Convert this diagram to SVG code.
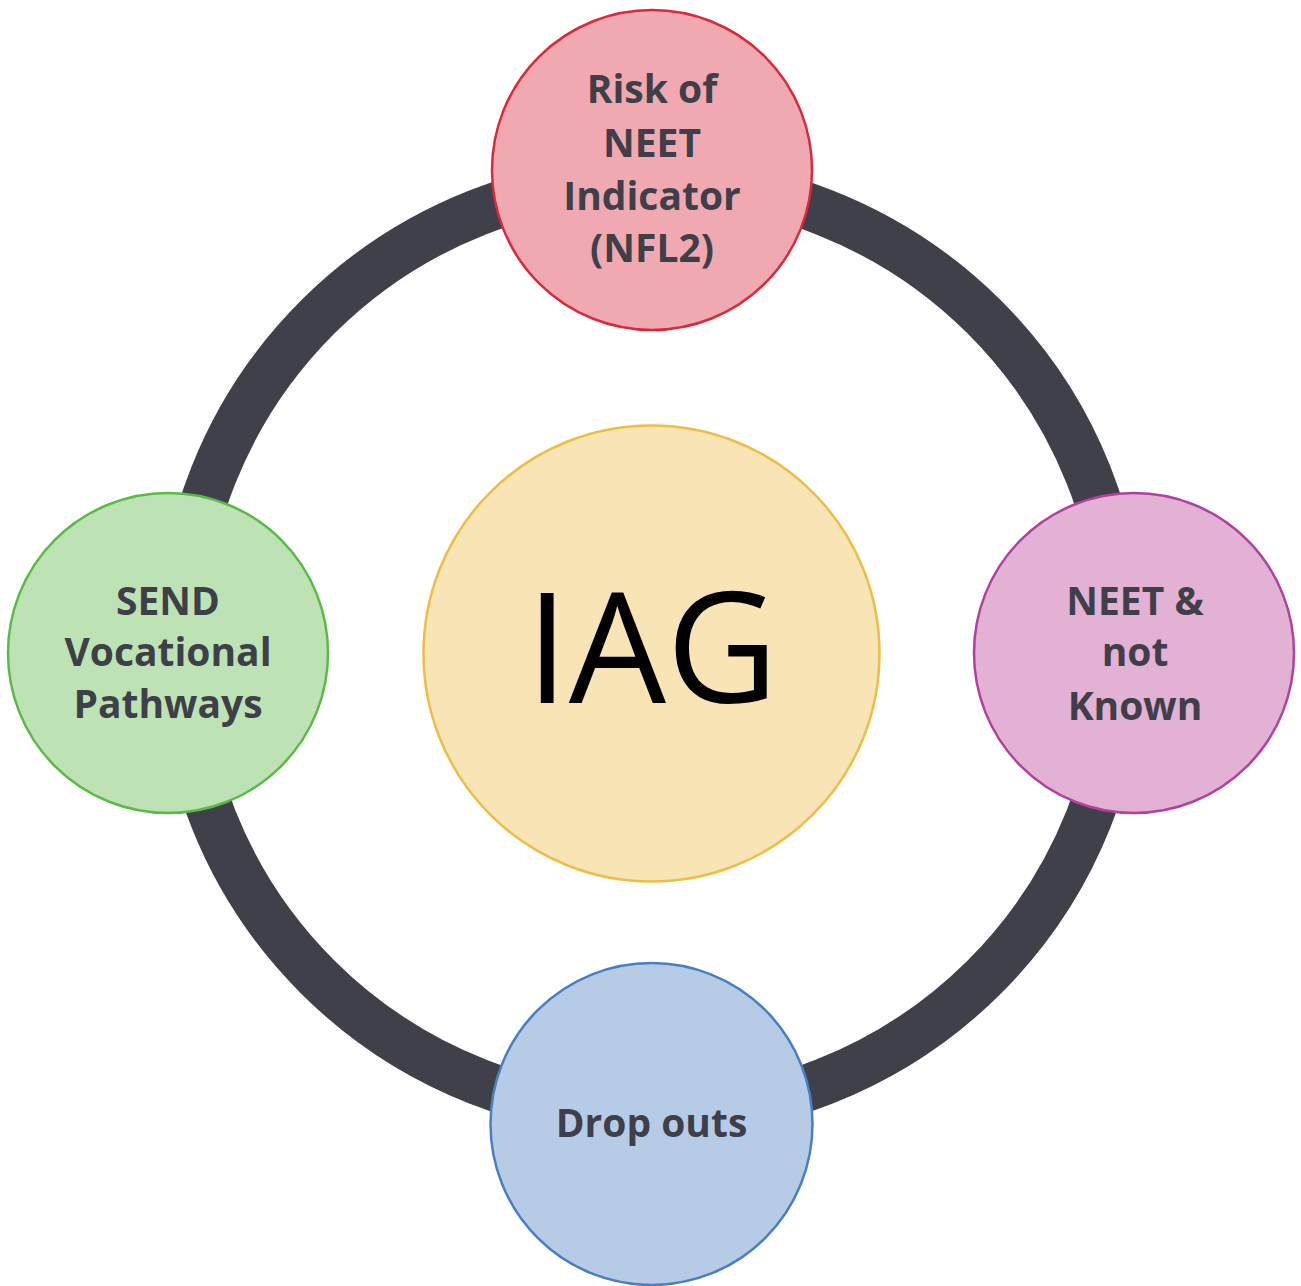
<svg xmlns="http://www.w3.org/2000/svg" width="1301" height="1286" viewBox="0 0 1301 1286">
<style>
.lbl{font-family:"Open Sans","Noto Sans","DejaVu Sans",sans-serif;font-weight:bold;font-size:39px;fill:#3F3F4A;text-anchor:middle}
.node{stroke-width:2.5}
</style>
<rect width="1301" height="1286" fill="#FFFFFF"/>
<g id="connectors">
<ellipse cx="651" cy="647" rx="470.5" ry="467.5" fill="none" stroke="#40404B" stroke-width="47"/>
</g>
<g id="node-iag">
<circle cx="651.5" cy="653.5" r="228" fill="#F9E4B5" stroke="#EDBD45" stroke-width="2.5"/>
<text x="652" y="703" font-family="'Open Sans','Noto Sans',sans-serif" font-size="154" fill="#000000" text-anchor="middle">IAG</text>
</g>
<g id="node-risk">
<circle class="node" cx="652" cy="170" r="160" fill="#F0A9B1" stroke="#D9293B"/>
<text class="lbl"><tspan x="652" y="103">Risk of</tspan><tspan x="652" y="157">NEET</tspan><tspan x="652" y="210">Indicator</tspan><tspan x="652" y="262">(NFL2)</tspan></text>
</g>
<g id="node-send">
<circle class="node" cx="168" cy="653" r="160" fill="#BDE3B5" stroke="#5BBA47"/>
<text class="lbl"><tspan x="168" y="615">SEND</tspan><tspan x="168" y="666">Vocational</tspan><tspan x="168" y="718">Pathways</tspan></text>
</g>
<g id="node-neet">
<circle class="node" cx="1134" cy="653" r="160" fill="#E2B1D4" stroke="#B041A0"/>
<text class="lbl"><tspan x="1135" y="615">NEET &amp;</tspan><tspan x="1135" y="666">not</tspan><tspan x="1135" y="720">Known</tspan></text>
</g>
<g id="node-drop">
<circle class="node" cx="651.5" cy="1124" r="161" fill="#B6CCE6" stroke="#4A7EC1"/>
<text class="lbl" x="651.5" y="1137">Drop outs</text>
</g>
</svg>
